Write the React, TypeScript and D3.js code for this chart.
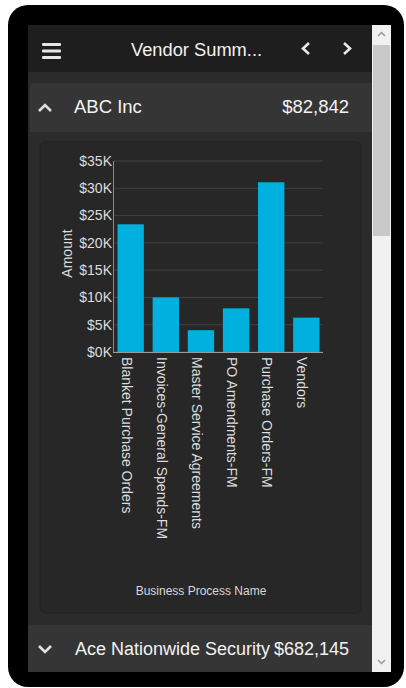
import React from "react";
import * as d3 from "d3";

const categories = [
  "Blanket Purchase Orders",
  "Invoices-General Spends-FM",
  "Master Service Agreements",
  "PO Amendments-FM",
  "Purchase Orders-FM",
  "Vendors",
];
const amounts = [23400, 10000, 4000, 8000, 31100, 6300];
const yTicks = [0, 5000, 10000, 15000, 20000, 25000, 30000, 35000];
const pageTitle = "Vendor Summ...";
const vendors = ["ABC Inc", "Ace Nationwide Security"];
const vendorTotals = ["$82,842", "$682,145"];
const yTitle = "Amount";
const xTitle = "Business Process Name";

const FONT = "Arial, 'Liberation Sans', sans-serif";

export default function App() {
  const W = 406;
  const H = 688;
  const plot = { left: 114, right: 323, top: 161, bottom: 352 };
  const x = d3
    .scaleBand<string>()
    .domain(categories)
    .range([plot.left, plot.right])
    .paddingInner(0.25)
    .paddingOuter(0.1);
  const y = d3.scaleLinear().domain([0, 35000]).range([plot.bottom, plot.top]);
  const fmt = (v: number) => `$${d3.format("d")(v / 1000)}K`;

  return (
    <svg
      width={W}
      height={H}
      style={{ position: "fixed", left: 0, top: 0, background: "#fff" }}
      fontFamily={FONT}
    >
      <rect x={0} y={0} width={W} height={H} fill="#ffffff" />
      {/* device frame */}
      <rect x={8} y={5} width={396} height={682} rx={20} fill="#000" />
      {/* screen background */}
      <rect x={28} y={25} width={344} height={647} fill="#2b2b2b" />
      {/* top bar */}
      <rect x={28} y={25} width={344} height={47} fill="#1e1e1e" />
      {/* hamburger */}
      {[44.5, 51, 57.5].map((yy) => (
        <rect key={yy} x={42} y={yy - 1.5} width={19} height={3} rx={1} fill="#e6e6e6" />
      ))}
      <text x={131} y={56} fontSize={18.3} fill="#f2f2f2">
        {pageTitle}
      </text>
      <path d="M309,43 L303,48.5 L309,54" fill="none" stroke="#e8e8e8" strokeWidth={2.6} />
      <path d="M344,43 L350,48.5 L344,54" fill="none" stroke="#e8e8e8" strokeWidth={2.6} />

      {/* accordion header 1 */}
      <path d="M30,132 L30,87 Q30,83 34,83 L372,83 L372,132 Z" fill="#353535" />
      <path d="M39,111 L45,105 L51,111" fill="none" stroke="#e0e0e0" strokeWidth={2.6} />
      <text x={74} y={113} fontSize={18.5} fill="#f2f2f2">
        {vendors[0]}
      </text>
      <text x={349} y={113} fontSize={18.5} fill="#f2f2f2" textAnchor="end">
        {vendorTotals[0]}
      </text>

      {/* chart panel */}
      <rect x={40} y={142} width={321} height={471} rx={5} fill="#272727" stroke="#222" strokeWidth={1} />

      {/* gridlines */}
      {yTicks.map((t) => (
        <line
          key={t}
          x1={plot.left}
          x2={plot.right}
          y1={y(t)}
          y2={y(t)}
          stroke="#424242"
          strokeWidth={1}
        />
      ))}
      {/* bars */}
      {categories.map((c, i) => (
        <rect
          key={c}
          x={x(c)}
          y={y(amounts[i])}
          width={x.bandwidth()}
          height={y(0) - y(amounts[i])}
          fill="#00b0de"
        />
      ))}
      {/* axes */}
      <line x1={plot.left - 0.5} x2={plot.left - 0.5} y1={plot.top} y2={plot.bottom} stroke="#8a8a8a" />
      <line x1={plot.left - 1} x2={plot.right} y1={plot.bottom + 0.5} y2={plot.bottom + 0.5} stroke="#9a9a9a" />
      {yTicks.map((t) => (
        <text
          key={t}
          x={plot.left - 2}
          y={y(t)}
          dy="0.35em"
          fontSize={14}
          fill="#dcdcdc"
          textAnchor="end"
        >
          {fmt(t)}
        </text>
      ))}
      {categories.map((c) => {
        const cx = (x(c) as number) + x.bandwidth() / 2;
        return (
          <text
            key={c}
            transform={`translate(${cx},${plot.bottom + 5}) rotate(90)`}
            dy="0.65em"
            fontSize={14}
            fill="#dcdcdc"
          >
            {c}
          </text>
        );
      })}
      <text
        transform={`translate(72,${(plot.top + plot.bottom) / 2 - 3}) rotate(-90)`}
        fontSize={14}
        fill="#dcdcdc"
        textAnchor="middle"
      >
        {yTitle}
      </text>
      <text x={201} y={595} fontSize={12} fill="#d8d8d8" textAnchor="middle">
        {xTitle}
      </text>

      {/* accordion header 2 */}
      <rect x={28} y={625} width={344} height={47} fill="#353535" />
      <path d="M39,646 L45,652 L51,646" fill="none" stroke="#e0e0e0" strokeWidth={2.6} />
      <text x={75} y={655} fontSize={18} fill="#f2f2f2">
        {vendors[1]}
      </text>
      <text x={349} y={655} fontSize={18} fill="#f2f2f2" textAnchor="end">
        {vendorTotals[1]}
      </text>

      {/* scrollbar */}
      <rect x={372} y={25} width={19} height={647} fill="#f1f1f1" />
      <rect x={373} y={45} width={17} height={191} fill="#c9c9c9" />
      <path d="M378,36 L381.5,32.5 L385,36" fill="none" stroke="#9a9a9a" strokeWidth={1.5} />
      <path d="M378,660 L381.5,663.5 L385,660" fill="none" stroke="#9a9a9a" strokeWidth={1.5} />
    </svg>
  );
}
